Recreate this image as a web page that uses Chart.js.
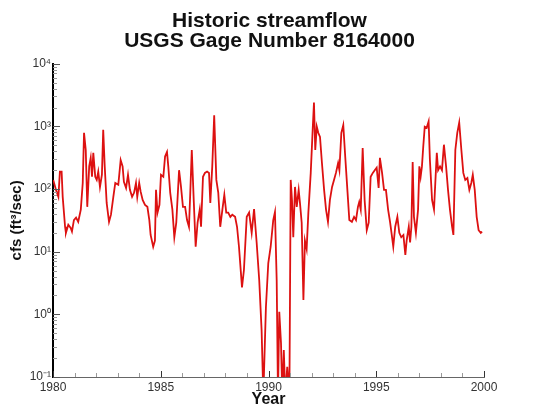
<!DOCTYPE html>
<html>
<head>
<meta charset="utf-8">
<script src="https://cdn.jsdelivr.net/npm/chart.js@4.4.1/dist/chart.umd.min.js"></script>
<style>
  html, body { margin: 0; padding: 0; background: #ffffff; }
  #wrap { width: 539px; height: 417px; }
</style>
</head>
<body>
<div id="wrap"><canvas id="flowChart"></canvas></div>
<script>
// values
const titleLines = ['Historic streamflow', 'USGS Gage Number 8164000'];
const xTitle = 'Year';
const yTitle = 'cfs (ft\u00B3/sec)';
const yDecades = [0.1, 1, 10, 100, 1000, 10000];

const years = [
    1980.01, 1980.14, 1980.25, 1980.32, 1980.40, 1980.45, 1980.56, 1980.60, 1980.71, 1980.82, 1980.88, 1980.97,
    1981.07, 1981.17, 1981.29, 1981.38, 1981.44, 1981.52, 1981.59, 1981.68, 1981.75, 1981.81, 1981.87, 1981.96,
    1982.03, 1982.10, 1982.18, 1982.27, 1982.33, 1982.40, 1982.49, 1982.60, 1982.69, 1982.80, 1982.89,
    1983.03, 1983.14, 1983.23, 1983.29, 1983.39, 1983.48, 1983.57, 1983.67, 1983.76, 1983.85, 1983.91,
    1984.00, 1984.07, 1984.16, 1984.27, 1984.38, 1984.47, 1984.53, 1984.65, 1984.73, 1984.78, 1984.85, 1984.94,
    1985.01, 1985.12, 1985.20, 1985.29, 1985.35, 1985.44, 1985.54, 1985.63, 1985.72, 1985.85, 1985.94,
    1986.03, 1986.13, 1986.22, 1986.31, 1986.37, 1986.44, 1986.53, 1986.62, 1986.71, 1986.81, 1986.87, 1986.96,
    1987.05, 1987.15, 1987.24, 1987.30, 1987.39, 1987.48, 1987.58, 1987.67, 1987.76, 1987.86, 1987.95,
    1988.04, 1988.13, 1988.23, 1988.32, 1988.45, 1988.54, 1988.63, 1988.72, 1988.77, 1988.86, 1988.99,
    1989.10, 1989.22, 1989.33, 1989.45, 1989.57, 1989.68, 1989.76, 1989.88, 1989.99,
    1990.10, 1990.22, 1990.30, 1990.38, 1990.44, 1990.50, 1990.58, 1990.64, 1990.71, 1990.78, 1990.87, 1990.97,
    1991.03, 1991.09, 1991.15, 1991.23, 1991.31, 1991.40, 1991.46, 1991.54, 1991.62, 1991.69, 1991.77, 1991.85, 1991.96,
    1992.05, 1992.11, 1992.17, 1992.24, 1992.31, 1992.39, 1992.48, 1992.58, 1992.67, 1992.76, 1992.85, 1992.95,
    1993.04, 1993.13, 1993.23, 1993.29, 1993.38, 1993.47, 1993.56, 1993.66, 1993.75, 1993.87, 1993.97,
    1994.06, 1994.15, 1994.21, 1994.28, 1994.37, 1994.46, 1994.56, 1994.65, 1994.74, 1994.84, 1994.93,
    1995.02, 1995.11, 1995.17, 1995.27, 1995.36, 1995.45, 1995.55, 1995.64, 1995.72, 1995.79, 1995.88, 1995.98,
    1996.07, 1996.16, 1996.26, 1996.35, 1996.41, 1996.51, 1996.57, 1996.63, 1996.69, 1996.75, 1996.84, 1996.94,
    1997.00, 1997.06, 1997.12, 1997.18, 1997.25, 1997.34, 1997.43, 1997.49, 1997.59, 1997.68, 1997.74, 1997.81, 1997.87, 1997.96,
    1998.05, 1998.14, 1998.24, 1998.33, 1998.42, 1998.52, 1998.58, 1998.67, 1998.76, 1998.85, 1998.95,
    1999.04, 1999.13, 1999.23, 1999.32, 1999.41, 1999.48, 1999.57, 1999.66, 1999.75, 1999.85, 1999.91
];

const flows = [
    140, 97, 75, 190, 190, 75, 25, 20, 27, 24, 21, 32,
    35, 30, 47, 125, 790, 420, 52, 230, 315, 157, 380, 157,
    140, 190, 108, 169, 880, 230, 60, 30, 39, 75, 125,
    117, 290, 230, 130, 104, 169, 97, 75, 87, 125, 75,
    125, 90, 67, 56, 52, 32, 18.5, 12, 15, 97, 42, 56,
    169, 157, 330, 390, 230, 87, 47, 17, 29, 200, 108,
    52, 52, 32, 25, 87, 420, 67, 12, 29, 47, 25, 157,
    181, 190, 181, 60, 230, 1500, 140, 87, 25, 47, 81,
    42, 42, 36, 39, 36, 25, 12, 4.6, 2.7, 5.1, 36,
    42, 20, 48, 14, 3.5, 0.56, 0.05, 1.3, 6.6,
    12, 32, 43, 3.5, 0.05, 1.1, 0.35, 0.05, 0.27, 0.05, 0.145, 0.05,
    140, 67, 17, 108, 52, 97, 60, 29, 1.7, 15, 11, 42, 181,
    880, 2400, 420, 990, 790, 680, 260, 97, 47, 30, 67, 108,
    140, 181, 260, 200, 790, 1050, 330, 97, 32, 30, 36,
    32, 52, 62, 47, 450, 67, 22, 29, 157, 181, 200,
    220, 104, 315, 181, 97, 97, 47, 30, 18.5, 12, 25, 36,
    20, 17, 18.5, 8.9, 15, 25, 14, 25, 270, 36, 20, 47,
    230, 157, 230, 470, 990, 950, 1200, 290, 67, 47, 125, 380, 200, 230,
    200, 510, 230, 97, 47, 25, 18.5, 420, 790, 1150, 420,
    181, 140, 150, 97, 125, 169, 97, 36, 22, 20, 21
];

const FONT = '"Liberation Sans", Arial, Helvetica, sans-serif';
const SUP = { '-': '\u207B', '0': '\u2070', '1': '\u00B9', '2': '\u00B2', '3': '\u00B3', '4': '\u2074' };

function powLabel(v) {
    const e = Math.round(Math.log10(v));
    return '10' + String(e).split('').map(c => SUP[c]).join('');
}

// tick marks pointing into the plot, like the original
const innerTicks = {
    id: 'innerTicks',
    afterDraw(chart) {
        const { ctx, chartArea, scales } = chart;
        const x = scales.x, y = scales.y;
        ctx.save();
        ctx.lineWidth = 1;
        yDecades.forEach(d => {
            for (let k = 1; k <= 9; k++) {
                const v = d * k;
                if (v > y.max * 1.0001) break;
                const py = Math.round(y.getPixelForValue(v)) + 0.5;
                const len = k === 1 ? 7 : 4;
                ctx.strokeStyle = k === 1 ? '#555' : '#999';
                ctx.beginPath();
                ctx.moveTo(chartArea.left, py);
                ctx.lineTo(chartArea.left + len, py);
                ctx.stroke();
            }
        });
        x.ticks.forEach(t => {
            const px = Math.round(x.getPixelForValue(t.value)) + 0.5;
            const major = t.value % 5 === 0;
            ctx.strokeStyle = major ? '#333' : '#999';
            ctx.beginPath();
            ctx.moveTo(px, chartArea.bottom);
            ctx.lineTo(px, chartArea.bottom - (major ? 6 : 4));
            ctx.stroke();
        });
        ctx.restore();
    }
};

const ctx = document.getElementById('flowChart').getContext('2d');
new Chart(ctx, {
    type: 'line',
    data: {
        datasets: [{
            data: years.map((yr, i) => ({ x: yr, y: flows[i] })),
            borderColor: '#dd1111',
            borderWidth: 1.8,
            pointRadius: 0,
            tension: 0,
            fill: false
        }]
    },
    options: {
        responsive: true,
        maintainAspectRatio: false,
        animation: false,
        layout: { padding: 0 },
        plugins: {
            legend: { display: false },
            tooltip: { enabled: false },
            title: {
                display: true,
                text: titleLines,
                color: '#111',
                font: { family: FONT, size: 21, weight: 'bold', lineHeight: 0.97 },
                padding: { top: 11, bottom: 12 }
            }
        },
        scales: {
            x: {
                type: 'linear',
                min: 1980,
                max: 2000,
                afterFit(scale) { scale.height = 40; },
                grid: { display: false, drawTicks: false },
                border: { display: true, color: '#666', width: 1 },
                ticks: {
                    stepSize: 1,
                    autoSkip: false,
                    maxRotation: 0,
                    padding: 3,
                    color: '#333',
                    font: { family: FONT, size: 12 },
                    callback: v => (v % 5 === 0 ? String(v) : '')
                },
                title: {
                    display: true,
                    text: xTitle,
                    color: '#111',
                    font: { family: FONT, size: 16, weight: 'bold' },
                    padding: { top: 0, bottom: 8 }
                }
            },
            y: {
                type: 'logarithmic',
                min: 0.1,
                max: 10000,
                afterBuildTicks(scale) {
                    scale.ticks = yDecades.map(v => ({ value: v, major: true }));
                },
                afterFit(scale) { scale.width = 53; },
                grid: { display: false, drawTicks: false },
                border: { display: true, color: '#000', width: 2 },
                ticks: {
                    autoSkip: false,
                    padding: 2,
                    color: '#333',
                    font: { family: FONT, size: 12 },
                    callback: v => powLabel(v)
                },
                title: {
                    display: true,
                    text: yTitle,
                    color: '#111',
                    font: { family: FONT, size: 15, weight: 'bold' },
                    padding: { top: 8, bottom: 0 }
                }
            },
            // blank right margin so the title centres on the whole figure
            yRight: {
                type: 'linear',
                position: 'right',
                display: true,
                afterFit(scale) { scale.width = 55; },
                grid: { display: false, drawTicks: false },
                border: { display: false },
                ticks: { display: false }
            }
        }
    },
    plugins: [innerTicks]
});
</script>
</body>
</html>
